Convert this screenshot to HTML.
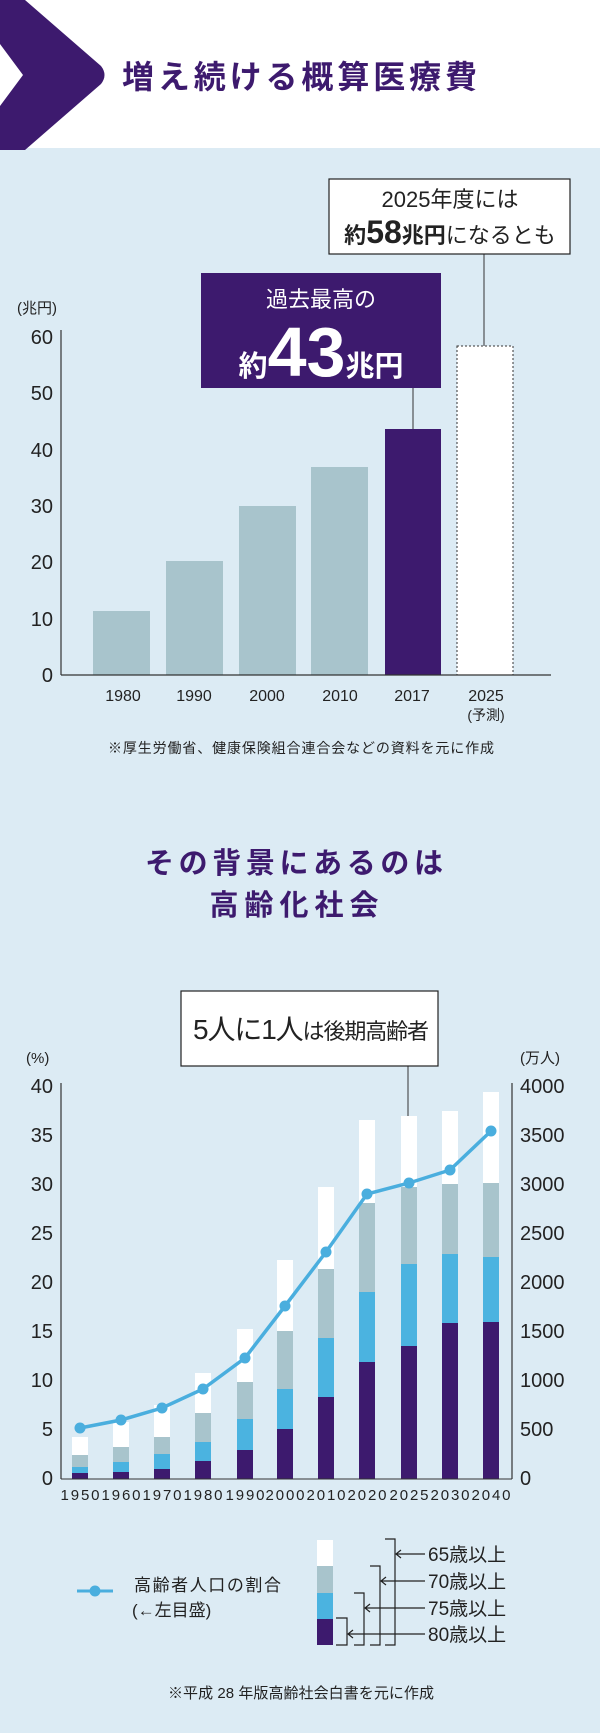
<!DOCTYPE html>
<html><head><meta charset="utf-8"><style>
html,body{margin:0;padding:0;background:#fff;}
svg{display:block;}
text{font-family:"Liberation Sans","Noto Sans CJK JP",sans-serif;}
</style></head><body>
<svg width="600" height="1733" viewBox="0 0 600 1733" xmlns="http://www.w3.org/2000/svg">
<rect x="0" y="0" width="600" height="148" fill="#fff"/>
<rect x="0" y="148" width="600" height="1585" fill="#dcebf4"/>
<path d="M0,0 L25,0 L101,66 Q108,75 101,84 L25,150 L0,150 L0,106 L23,75 L0,44 Z" fill="#3d1a6e"/>
<text x="122" y="88" font-size="32" font-weight="bold" fill="#3d1a6e" textLength="355">増え続ける概算医療費</text>

<!-- chart 1 -->
<g fill="#222" font-size="20" text-anchor="end">
<text x="53" y="344">60</text><text x="53" y="400">50</text><text x="53" y="457">40</text>
<text x="53" y="513">30</text><text x="53" y="569">20</text><text x="53" y="626">10</text><text x="53" y="682">0</text>
</g>
<text x="17" y="313" font-size="15" fill="#222">(兆円)</text>
<line x1="61" y1="330" x2="61" y2="675" stroke="#333" stroke-width="1.2"/>
<rect x="93" y="611" width="57" height="64" fill="#a8c4cc"/>
<rect x="166" y="561" width="57" height="114" fill="#a8c4cc"/>
<rect x="239" y="506" width="57" height="169" fill="#a8c4cc"/>
<rect x="311" y="467" width="57" height="208" fill="#a8c4cc"/>
<rect x="385" y="429" width="56" height="246" fill="#3d1a6e"/>
<rect x="457" y="346" width="56" height="329" fill="#fff" stroke="#333" stroke-width="1" stroke-dasharray="2,2"/>
<line x1="61" y1="675" x2="551" y2="675" stroke="#333" stroke-width="1.2"/>
<g fill="#222" font-size="16" text-anchor="middle">
<text x="123" y="701">1980</text><text x="194" y="701">1990</text><text x="267" y="701">2000</text>
<text x="340" y="701">2010</text><text x="412" y="701">2017</text><text x="486" y="701">2025</text>
<text x="486" y="720" font-size="14">(予測)</text>
</g>
<text x="301" y="753" font-size="14" fill="#222" text-anchor="middle" textLength="386">※厚生労働省、健康保険組合連合会などの資料を元に作成</text>
<line x1="413" y1="388" x2="413" y2="429" stroke="#333"/>
<rect x="201" y="273" width="240" height="115" fill="#3d1a6e"/>
<text x="321" y="307" font-size="22" fill="#fff" text-anchor="middle">過去最高の</text>
<text x="321" y="376" fill="#fff" text-anchor="middle"><tspan font-size="29" font-weight="bold">約</tspan><tspan font-size="70" font-weight="bold">43</tspan><tspan font-size="29" font-weight="bold">兆円</tspan></text>
<line x1="484" y1="254" x2="484" y2="346" stroke="#333"/>
<rect x="329" y="179" width="241" height="75" fill="#fff" stroke="#222" stroke-width="1.2"/>
<text x="450" y="207" font-size="22" fill="#222" text-anchor="middle">2025年度には</text>
<text x="450" y="243" fill="#222" text-anchor="middle"><tspan font-size="22" font-weight="bold">約</tspan><tspan font-size="32" font-weight="bold">58</tspan><tspan font-size="22" font-weight="bold">兆円</tspan><tspan font-size="22">になるとも</tspan></text>

<!-- title 2 -->
<text x="294" y="873" font-size="29" font-weight="bold" fill="#3d1a6e" text-anchor="middle" textLength="298">その背景にあるのは</text>
<text x="294" y="915" font-size="29" font-weight="bold" fill="#3d1a6e" text-anchor="middle" textLength="169">高齢化社会</text>

<!-- chart 2 -->
<line x1="408" y1="1066" x2="408" y2="1116" stroke="#333"/>
<rect x="181" y="991" width="257" height="75" fill="#fff" stroke="#222" stroke-width="1.2"/>
<text x="193" y="1039" fill="#222" textLength="236"><tspan font-size="28">5人に1人</tspan><tspan font-size="22">は後期高齢者</tspan></text>
<text x="26" y="1063" font-size="15" fill="#222">(%)</text>
<text x="520" y="1063" font-size="15" fill="#222">(万人)</text>
<g fill="#222" font-size="20" text-anchor="end">
<text x="53" y="1093">40</text><text x="53" y="1142">35</text><text x="53" y="1191">30</text><text x="53" y="1240">25</text>
<text x="53" y="1289">20</text><text x="53" y="1338">15</text><text x="53" y="1387">10</text><text x="53" y="1436">5</text><text x="53" y="1485">0</text>
</g>
<g fill="#222" font-size="20">
<text x="520" y="1093">4000</text><text x="520" y="1142">3500</text><text x="520" y="1191">3000</text><text x="520" y="1240">2500</text>
<text x="520" y="1289">2000</text><text x="520" y="1338">1500</text><text x="520" y="1387">1000</text><text x="520" y="1436">500</text><text x="520" y="1485">0</text>
</g>
<line x1="61" y1="1083" x2="61" y2="1479" stroke="#333" stroke-width="1.2"/>
<line x1="512" y1="1083" x2="512" y2="1479" stroke="#333" stroke-width="1.2"/>
<g>
<rect x="72" y="1437" width="16" height="42" fill="#fff"/><rect x="72" y="1455" width="16" height="24" fill="#a8c4cc"/><rect x="72" y="1467" width="16" height="12" fill="#4bb3e0"/><rect x="72" y="1473" width="16" height="6" fill="#3d1a6e"/>
<rect x="113" y="1422" width="16" height="57" fill="#fff"/><rect x="113" y="1447" width="16" height="32" fill="#a8c4cc"/><rect x="113" y="1462" width="16" height="17" fill="#4bb3e0"/><rect x="113" y="1472" width="16" height="7" fill="#3d1a6e"/>
<rect x="154" y="1405" width="16" height="74" fill="#fff"/><rect x="154" y="1437" width="16" height="42" fill="#a8c4cc"/><rect x="154" y="1454" width="16" height="25" fill="#4bb3e0"/><rect x="154" y="1469" width="16" height="10" fill="#3d1a6e"/>
<rect x="195" y="1373" width="16" height="106" fill="#fff"/><rect x="195" y="1413" width="16" height="66" fill="#a8c4cc"/><rect x="195" y="1442" width="16" height="37" fill="#4bb3e0"/><rect x="195" y="1461" width="16" height="18" fill="#3d1a6e"/>
<rect x="237" y="1329" width="16" height="150" fill="#fff"/><rect x="237" y="1382" width="16" height="97" fill="#a8c4cc"/><rect x="237" y="1419" width="16" height="60" fill="#4bb3e0"/><rect x="237" y="1450" width="16" height="29" fill="#3d1a6e"/>
<rect x="277" y="1260" width="16" height="219" fill="#fff"/><rect x="277" y="1331" width="16" height="148" fill="#a8c4cc"/><rect x="277" y="1389" width="16" height="90" fill="#4bb3e0"/><rect x="277" y="1429" width="16" height="50" fill="#3d1a6e"/>
<rect x="318" y="1187" width="16" height="292" fill="#fff"/><rect x="318" y="1269" width="16" height="210" fill="#a8c4cc"/><rect x="318" y="1338" width="16" height="141" fill="#4bb3e0"/><rect x="318" y="1397" width="16" height="82" fill="#3d1a6e"/>
<rect x="359" y="1120" width="16" height="359" fill="#fff"/><rect x="359" y="1203" width="16" height="276" fill="#a8c4cc"/><rect x="359" y="1292" width="16" height="187" fill="#4bb3e0"/><rect x="359" y="1362" width="16" height="117" fill="#3d1a6e"/>
<rect x="401" y="1116" width="16" height="363" fill="#fff"/><rect x="401" y="1187" width="16" height="292" fill="#a8c4cc"/><rect x="401" y="1264" width="16" height="215" fill="#4bb3e0"/><rect x="401" y="1346" width="16" height="133" fill="#3d1a6e"/>
<rect x="442" y="1111" width="16" height="368" fill="#fff"/><rect x="442" y="1184" width="16" height="295" fill="#a8c4cc"/><rect x="442" y="1254" width="16" height="225" fill="#4bb3e0"/><rect x="442" y="1323" width="16" height="156" fill="#3d1a6e"/>
<rect x="483" y="1092" width="16" height="387" fill="#fff"/><rect x="483" y="1183" width="16" height="296" fill="#a8c4cc"/><rect x="483" y="1257" width="16" height="222" fill="#4bb3e0"/><rect x="483" y="1322" width="16" height="157" fill="#3d1a6e"/>
</g>
<line x1="61" y1="1479" x2="512" y2="1479" stroke="#333" stroke-width="1"/>
<polyline points="80,1428 121,1420 162,1408 203,1389 245,1358 285,1306 326,1252 367,1194 409,1183 450,1170 491,1131" fill="none" stroke="#4aaede" stroke-width="3.5"/>
<g fill="#4aaede">
<circle cx="80" cy="1428" r="5.5"/><circle cx="121" cy="1420" r="5.5"/><circle cx="162" cy="1408" r="5.5"/><circle cx="203" cy="1389" r="5.5"/><circle cx="245" cy="1358" r="5.5"/><circle cx="285" cy="1306" r="5.5"/><circle cx="326" cy="1252" r="5.5"/><circle cx="367" cy="1194" r="5.5"/><circle cx="409" cy="1183" r="5.5"/><circle cx="450" cy="1170" r="5.5"/><circle cx="491" cy="1131" r="5.5"/>
</g>
<g fill="#222" font-size="15" text-anchor="middle">
<text x="80" y="1500" textLength="39">1950</text><text x="121" y="1500" textLength="39">1960</text><text x="162" y="1500" textLength="39">1970</text><text x="203" y="1500" textLength="39">1980</text><text x="245" y="1500" textLength="39">1990</text><text x="285" y="1500" textLength="39">2000</text><text x="326" y="1500" textLength="39">2010</text><text x="367" y="1500" textLength="39">2020</text><text x="409" y="1500" textLength="39">2025</text><text x="450" y="1500" textLength="39">2030</text><text x="491" y="1500" textLength="39">2040</text>
</g>

<!-- legend -->
<line x1="77" y1="1591" x2="113" y2="1591" stroke="#4aaede" stroke-width="3"/>
<circle cx="95" cy="1591" r="5.5" fill="#4aaede"/>
<text x="134" y="1591" font-size="17" fill="#222" textLength="147">高齢者人口の割合</text>
<text x="132" y="1616" font-size="17" fill="#222">(←左目盛)</text>
<rect x="317" y="1540" width="16" height="26" fill="#fff"/>
<rect x="317" y="1566" width="16" height="27" fill="#a8c4cc"/>
<rect x="317" y="1593" width="16" height="26" fill="#4bb3e0"/>
<rect x="317" y="1619" width="16" height="26" fill="#3d1a6e"/>
<g fill="none" stroke="#222" stroke-width="1.2">
<path d="M336,1618 H347 V1645 H336"/>
<path d="M354,1593 H364 V1645 H354"/>
<path d="M370,1566 H380 V1645 H370"/>
<path d="M385,1539 H395 V1645 H385"/>
<path d="M425,1554 H396 M401,1550 L396,1554 L401,1558"/>
<path d="M425,1581 H381 M386,1577 L381,1581 L386,1585"/>
<path d="M425,1608 H365 M370,1604 L365,1608 L370,1612"/>
<path d="M425,1634 H348 M353,1630 L348,1634 L353,1638"/>
</g>
<g fill="#222" font-size="19">
<text x="428" y="1561">65歳以上</text><text x="428" y="1588">70歳以上</text><text x="428" y="1615">75歳以上</text><text x="428" y="1641">80歳以上</text>
</g>
<text x="301" y="1698" font-size="15" fill="#222" text-anchor="middle" textLength="266">※平成 28 年版高齢社会白書を元に作成</text>
</svg>
</body></html>
